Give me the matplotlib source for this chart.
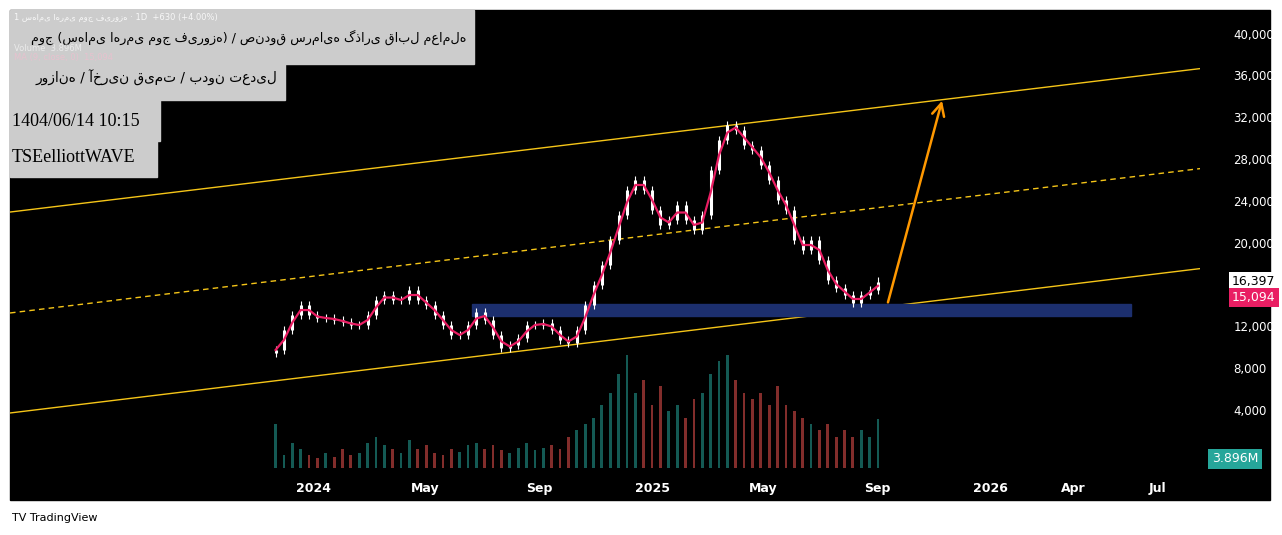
import matplotlib
matplotlib.use("Agg")
import matplotlib.pyplot as plt
import matplotlib.dates as mdates
import numpy as np
import pandas as pd
from matplotlib.patches import Rectangle

# ====================================
# DATOS
# ====================================

START = "2023-11-21"
END = "2025-09-02"

closes = [
    9860, 11770, 13200, 14160, 13200, 12920, 12920, 12730, 12540, 12250,
    12250, 13200, 14640, 15120, 14640, 14640, 15600, 14640, 14160, 13200,
    12250, 11290, 11290, 12250, 13490, 12730, 11290, 10050, 10340, 11000,
    12250, 12250, 12440, 11770, 10810, 10530, 11770, 14160, 16080, 17990,
    20380, 22780, 25170, 26130, 25170, 23260, 21820, 22300, 23730, 22300,
    21340, 22780, 27080, 29950, 31390, 30910, 29480, 29000, 27560, 26130,
    24210, 23260, 20380, 19430, 20380, 18470, 16560, 15790, 15120, 14360,
    15120, 15600, 16397,
]

volumes = [
    3.5, 1.0, 2.0, 1.5, 1.0, 0.8, 1.2, 0.9, 1.5, 1.0,
    1.2, 2.0, 2.5, 1.8, 1.5, 1.2, 2.2, 1.5, 1.8, 1.2,
    1.0, 1.5, 1.3, 1.8, 2.0, 1.5, 1.8, 1.4, 1.2, 1.6,
    2.0, 1.4, 1.6, 1.8, 1.5, 2.5, 3.0, 3.5, 4.0, 5.0,
    6.0, 7.5, 9.0, 6.0, 7.0, 5.0, 6.5, 4.5, 5.0, 4.0,
    5.5, 6.0, 7.5, 8.5, 9.0, 7.0, 6.0, 5.5, 6.0, 5.0,
    6.5, 5.0, 4.5, 4.0, 3.5, 3.0, 3.5, 2.5, 3.0, 2.5,
    3.0, 2.5, 3.9,
]

channel_dates = ["2023-02-07", "2026-08-21"]
upper_line = [23060, 36840]
middle_line = [13400, 27270]
lower_line = [3830, 17700]

arrow_dates = ["2025-09-12", "2025-11-11"]
arrow_prices = [14160, 33970]

zone_dates = ["2024-06-20", "2026-06-02"]
zone_prices = [13110, 14260]

y_ticks = [4000, 8000, 12000, 20000, 24000, 28000, 32000, 36000, 40000]
x_ticks = ["2024-01-01", "2024-05-01", "2024-09-01", "2025-01-01", "2025-05-01",
           "2025-09-01", "2026-01-01", "2026-04-01", "2026-07-01"]
x_labels = ["2024", "May", "Sep", "2025", "May", "Sep", "2026", "Apr", "Jul"]

last_price = 16397
ma_value = 15094
last_volume = "3.896M"

title_fa = "موج (سهامی اهرمی موج فیروزه) / صندوق سرمایه گذاری قابل معامله"
sub_fa = "روزانه / آخرین قیمت / بدون تعدیل"
symbol_fa = "سهامی اهرمی موج فیروزه"
stamp = "1404/06/14 10:15"
author = "TSEelliottWAVE"

# ====================================
# GRÁFICA
# ====================================

W, H = 1282, 535
fig = plt.figure(figsize=(W / 100, H / 100), dpi=100, facecolor="white")
fig.patches.append(Rectangle((10 / W, 35 / H), 1260 / W, 490 / H,
                             transform=fig.transFigure, color="black", zorder=-5))

axv = fig.add_axes([10 / W, 67 / H, 1190 / W, 458 / H])
axv.set_zorder(1)
axv.axis("off")
ax = fig.add_axes([10 / W, 67 / H, 1190 / W, 458 / H], sharex=axv)
ax.set_zorder(2)
ax.patch.set_visible(False)
for s in ax.spines.values():
    s.set_visible(False)

dates = pd.date_range(START, END, periods=len(closes))
c = np.array(closes, dtype=float)
opens = np.r_[c[0] * 0.97, c[:-1]]

ax.set_xlim(pd.Timestamp("2023-02-07"), pd.Timestamp("2026-08-16"))
ax.set_ylim(-1435, 42395)

# volumen
axv.set_ylim(0, max(volumes) * 4.05)
vcol = ["#26a69a" if c[i] >= opens[i] else "#ef5350" for i in range(len(c))]
axv.bar(dates, volumes, width=3, color=vcol, alpha=0.55)

# canal
cd = pd.to_datetime(channel_dates)
ax.plot(cd, upper_line, color="#f5c518", lw=1)
ax.plot(cd, lower_line, color="#f5c518", lw=1)
ax.plot(cd, middle_line, color="#f5c518", lw=1, ls=(0, (4, 3)))

# zona
zd = mdates.date2num(pd.to_datetime(zone_dates))
ax.add_patch(Rectangle((zd[0], zone_prices[0]), zd[1] - zd[0],
                       zone_prices[1] - zone_prices[0], color="#1c2f6e", zorder=2))

# velas
for d, o, cl in zip(dates, opens, c):
    lo, hi = min(o, cl), max(o, cl)
    ax.vlines(d, lo - 400, hi + 400, color="white", lw=0.8, zorder=3)
    ax.vlines(d, lo, hi, color="white", lw=2.2, zorder=3)

# media móvil
ma = pd.Series(c).rolling(2, min_periods=1).mean()
ax.plot(dates, ma, color="#e91e63", lw=1.6, zorder=4)

# flecha
ad = pd.to_datetime(arrow_dates)
ax.annotate("", xy=(ad[1], arrow_prices[1]), xytext=(ad[0], arrow_prices[0]),
            arrowprops=dict(arrowstyle="->", color="#ff9800", lw=1.8,
                            mutation_scale=22), zorder=5)

# ejes
ax.set_yticks([])
ax.set_xticks(pd.to_datetime(x_ticks))
ax.set_xticklabels(x_labels, color="white", fontsize=9, fontweight="bold")
ax.tick_params(axis="x", length=0, pad=10)
for t in y_ticks:
    ax.text(1.028, t, f"{t:,}", transform=ax.get_yaxis_transform(),
            color="white", fontsize=8.5, va="center", ha="left")

ax.text(1.027, last_price, f"{last_price:,}", transform=ax.get_yaxis_transform(),
        color="black", fontsize=9, va="center", ha="left",
        bbox=dict(boxstyle="square,pad=0.25", fc="white", ec="none"))
ax.text(1.027, ma_value - 200, f"{ma_value:,}", transform=ax.get_yaxis_transform(),
        color="white", fontsize=9, va="center", ha="left",
        bbox=dict(boxstyle="square,pad=0.25", fc="#e91e63", ec="none"))
fig.text(1212 / W, 1 - 459 / H, last_volume, color="white", fontsize=9, va="center",
         bbox=dict(boxstyle="square,pad=0.3", fc="#26a69a", ec="none"))

# cajas de texto (persa alineado a la derecha)
boxes = [
    (10, 10, 464, 54, title_fa, 37, 9.2, "DejaVu Sans", "right"),
    (10, 62, 275, 38, sub_fa, 78, 9.8, "DejaVu Sans", "right"),
    (10, 100, 150, 41, stamp, 121, 13, "Liberation Serif", "left"),
    (10, 141, 147, 36, author, 158, 13, "Liberation Serif", "left"),
]
for x0, y0, w, h, txt, ty, fs, fam, ha in boxes:
    fig.patches.append(Rectangle((x0 / W, 1 - (y0 + h) / H), w / W, h / H,
                                 transform=fig.transFigure, color="#cccccc", zorder=5))
    tx = (x0 + w - 8) / W if ha == "right" else 12 / W
    fig.text(tx, 1 - ty / H, txt, fontsize=fs, family=fam,
             va="center", ha=ha, color="black", zorder=6)

fig.text(14 / W, 1 - 20 / H, "1 " + symbol_fa + " · 1D  +630 (+4.00%)",
         color="white", fontsize=6, alpha=0.85, zorder=7)
fig.text(14 / W, 1 - 51 / H, "Volume  3.896M", color="white", fontsize=6,
         alpha=0.6, zorder=7)
fig.text(14 / W, 1 - 60 / H, "MA (9, close, 0)  15,094", color="#f8bbd0",
         fontsize=6, alpha=0.6, zorder=7)

fig.text(12 / W, 1 - 518 / H, "TV TradingView", color="black", fontsize=8,
         va="center")

fig.savefig("out.png", dpi=100, facecolor="white")
